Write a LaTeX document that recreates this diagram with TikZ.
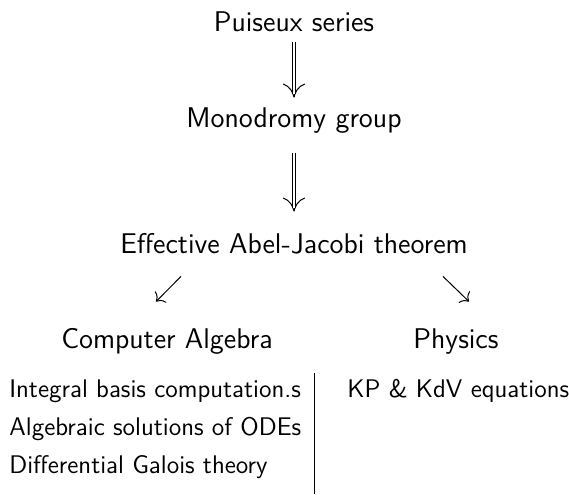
\documentclass[tikz,border=0pt]{standalone}
\usepackage{fontspec}
\usetikzlibrary{positioning,arrows.meta}

\begin{document}
\begin{tikzpicture}[
    x=0.5pt, y=-0.5pt,
    font=\sffamily,
    hd/.style={font=\sffamily\fontsize{14.25pt}{17pt}\selectfont, inner sep=0pt,
               text height=10pt, text depth=3pt, anchor=base},
    itm/.style={font=\sffamily\fontsize{12.75pt}{15pt}\selectfont, inner sep=0pt,
                anchor=base west},
    dhead/.style={line width=0.5pt, -{To[length=7pt, width=11pt]}},
    dshaft/.style={double, double distance=1.2pt, line width=0.5pt},
    sarr/.style={line width=0.5pt, -{To[length=3.5pt, width=8pt]}},
  ]
  \useasboundingbox (0,0) rectangle (569,494);

  % main chain
  \node[hd] (pui) at (294,31) {Puiseux series};
  \node[hd] (mono) at (294,127) {Monodromy group};
  \node[hd] (eff) at (294,253) {Effective Abel-Jacobi theorem};

  % two branches
  \node[hd] (ca) at (167,348) {Computer Algebra};
  \node[hd] (phy) at (456,348) {Physics};

  % items
  \node[itm] (int) at (9,397) {Integral basis computation.s};
  \node[itm] (alg) at ([yshift=-19pt]int.base west) {Algebraic solutions of ODEs};
  \node[itm] (gal) at ([yshift=-19pt]alg.base west) {Differential Galois theory};
  \node[itm] (kp) at (347,397) {KP \& KdV equations};

  % double arrows: head first, shaft on top
  \draw[dhead, shorten <=2.5pt, shorten >=4.5pt] (pui.south) -- (mono.north);
  \draw[dshaft, shorten <=2.5pt, shorten >=6.5pt] (pui.south) -- (mono.north);
  \draw[dhead, shorten <=10pt, shorten >=10.5pt] (mono.south) -- (eff.north);
  \draw[dshaft, shorten <=10pt, shorten >=12.5pt] (mono.south) -- (eff.north);

  \draw[sarr] ([shift={(-113,17)}]eff.south) -- ([shift={(-11,-26)}]ca.north);
  \draw[sarr] ([shift={(149,17)}]eff.south) -- ([shift={(13,-26)}]phy.north);

  % separator
  \draw[line width=0.5pt] (314,373) -- (314,494);
\end{tikzpicture}
\end{document}
